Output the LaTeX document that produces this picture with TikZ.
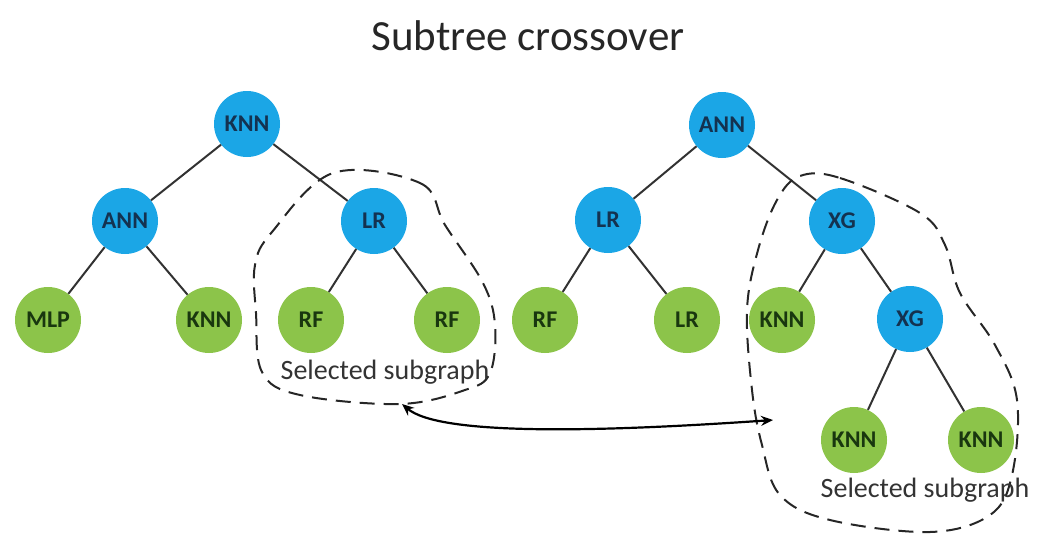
\documentclass[tikz,border=0pt]{standalone}
\usepackage{fontspec}
\setmainfont{Carlito}
\usetikzlibrary{arrows.meta}
\definecolor{nblue}{RGB}{27,166,230}
\definecolor{ngreen}{RGB}{140,196,74}
\definecolor{tblue}{RGB}{20,50,80}
\definecolor{tgreen}{RGB}{25,55,15}
\definecolor{edgec}{RGB}{50,50,50}
\tikzset{
  inner/.style={circle, fill=nblue, minimum size=66pt, inner sep=0pt, text=tblue, font=\fontsize{24}{28}\selectfont\bfseries},
  leaf/.style={circle, fill=ngreen, minimum size=66pt, inner sep=0pt, text=tgreen, font=\fontsize{24}{28}\selectfont\bfseries},
  edge/.style={draw=edgec, line width=2pt},
  sel/.style={draw=black!85, line width=2pt, dash pattern=on 15pt off 9pt},
  lbl/.style={font=\fontsize{28}{32}\selectfont, text=black!80},
}
\begin{document}
\begin{tikzpicture}[x=1pt,y=-1pt]
\useasboundingbox (0,0) rectangle (1056,536);
\node[font=\fontsize{43}{50}\selectfont, text=black!85] (title) at (528,36) {Subtree crossover};
% left tree
\node[inner] (l1) at (247,124) {KNN};
\node[inner] (l2) at (125,221) {ANN};
\node[inner] (l3) at (374,221) {LR};
\node[leaf] (l4) at (48,320) {MLP};
\node[leaf] (l5) at (209,320) {KNN};
\node[leaf] (l6) at (311,320) {RF};
\node[leaf] (l7) at (447,320) {RF};
\draw[edge] (l1) -- (l2);
\draw[edge] (l1) -- (l3);
\draw[edge] (l2) -- (l4);
\draw[edge] (l2) -- (l5);
\draw[edge] (l3) -- (l6);
\draw[edge] (l3) -- (l7);
% right tree
\node[inner] (r1) at (722,125) {ANN};
\node[inner] (r2) at (608,220) {LR};
\node[inner] (r3) at (842,221) {XG};
\node[leaf] (r4) at (545,320) {RF};
\node[leaf] (r5) at (687,320) {LR};
\node[leaf] (r6) at (782,320) {KNN};
\node[inner] (r7) at (910,319) {XG};
\node[leaf] (r8) at (854,440) {KNN};
\node[leaf] (r9) at (981,440) {KNN};
\draw[edge] (r1) -- (r2);
\draw[edge] (r1) -- (r3);
\draw[edge] (r2) -- (r4);
\draw[edge] (r2) -- (r5);
\draw[edge] (r3) -- (r6);
\draw[edge] (r3) -- (r7);
\draw[edge] (r7) -- (r8);
\draw[edge] (r7) -- (r9);
% selections
\draw[sel] plot[smooth cycle, tension=0.6] coordinates {(333,173) (420,183) (445,225) (483,283) (495,325) (490,373) (465,390) (400,404) (300,395) (262,372) (256,313) (255,265) (272,232)};
\draw[sel] plot[smooth cycle, tension=0.6] coordinates {(800,176) (840,178) (920,213) (945,245) (960,293) (995,345) (1017,400) (1012,475) (990,515) (930,532) (830,520) (780,495) (762,445) (752,390) (747,310) (758,250) (777,200)};
\node[lbl] (s1) at (385,372) {Selected subgraph};
\node[lbl] (s2) at (925,490) {Selected subgraph};
% arrow
\coordinate (aL) at (402,404);
\coordinate (aR) at (773,420);
\draw[line width=2.2pt, {Stealth[length=12pt,width=10pt]}-{Stealth[length=12pt,width=10pt]}] (aL) .. controls (440,436) and (600,432) .. (aR);
\end{tikzpicture}
\end{document}
